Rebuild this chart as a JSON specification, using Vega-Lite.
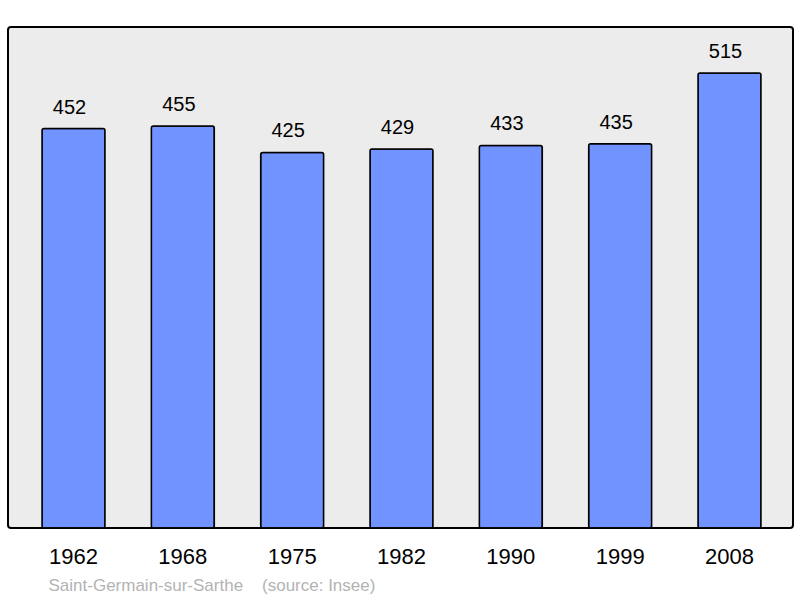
{
  "$schema": "https://vega.github.io/schema/vega-lite/v6.json",
  "width": 785,
  "height": 501,
  "autosize": "none",
  "padding": {"left": 8, "top": 27, "right": 7, "bottom": 70},
  "background": "white",
  "view": {"fill": "#ececec", "stroke": "black", "strokeWidth": 2, "cornerRadius": 3},
  "config": {"font": "Liberation Sans"},
  "data": {
    "values": [
      {"year": "1962", "pop": 452},
      {"year": "1968", "pop": 455},
      {"year": "1975", "pop": 425},
      {"year": "1982", "pop": 429},
      {"year": "1990", "pop": 433},
      {"year": "1999", "pop": 435},
      {"year": "2008", "pop": 515}
    ]
  },
  "encoding": {
    "x": {
      "field": "year",
      "type": "ordinal",
      "scale": {"paddingInner": 0.424, "paddingOuter": 0.302, "align": 0.515},
      "axis": {
        "domain": false,
        "ticks": false,
        "tickSize": 0,
        "labelAngle": 0,
        "labelFont": "Liberation Sans",
        "labelFontSize": 22,
        "labelColor": "black",
        "labelBaseline": "alphabetic",
        "labelPadding": 35,
        "title": "Saint-Germain-sur-Sarthe\u00a0\u00a0\u00a0\u00a0(source: Insee)",
        "titleFont": "Liberation Sans",
        "titleFontSize": 17,
        "titleFontWeight": "normal",
        "titleColor": "#b3b3b3",
        "titleAnchor": "start",
        "titleAlign": "left",
        "titleBaseline": "alphabetic",
        "titleX": 40,
        "titleY": 62
      }
    },
    "y": {
      "field": "pop",
      "type": "quantitative",
      "scale": {"domain": [0, 567], "nice": false, "zero": true},
      "axis": null
    }
  },
  "layer": [
    {
      "mark": {"type": "bar", "fill": "#7093ff", "stroke": "black", "strokeWidth": 1.5, "cornerRadius": 2}
    },
    {
      "mark": {"type": "text", "baseline": "alphabetic", "dy": -15, "dx": -4, "fontSize": 20, "font": "Liberation Sans", "color": "black"},
      "encoding": {"text": {"field": "pop", "type": "quantitative"}}
    }
  ]
}
